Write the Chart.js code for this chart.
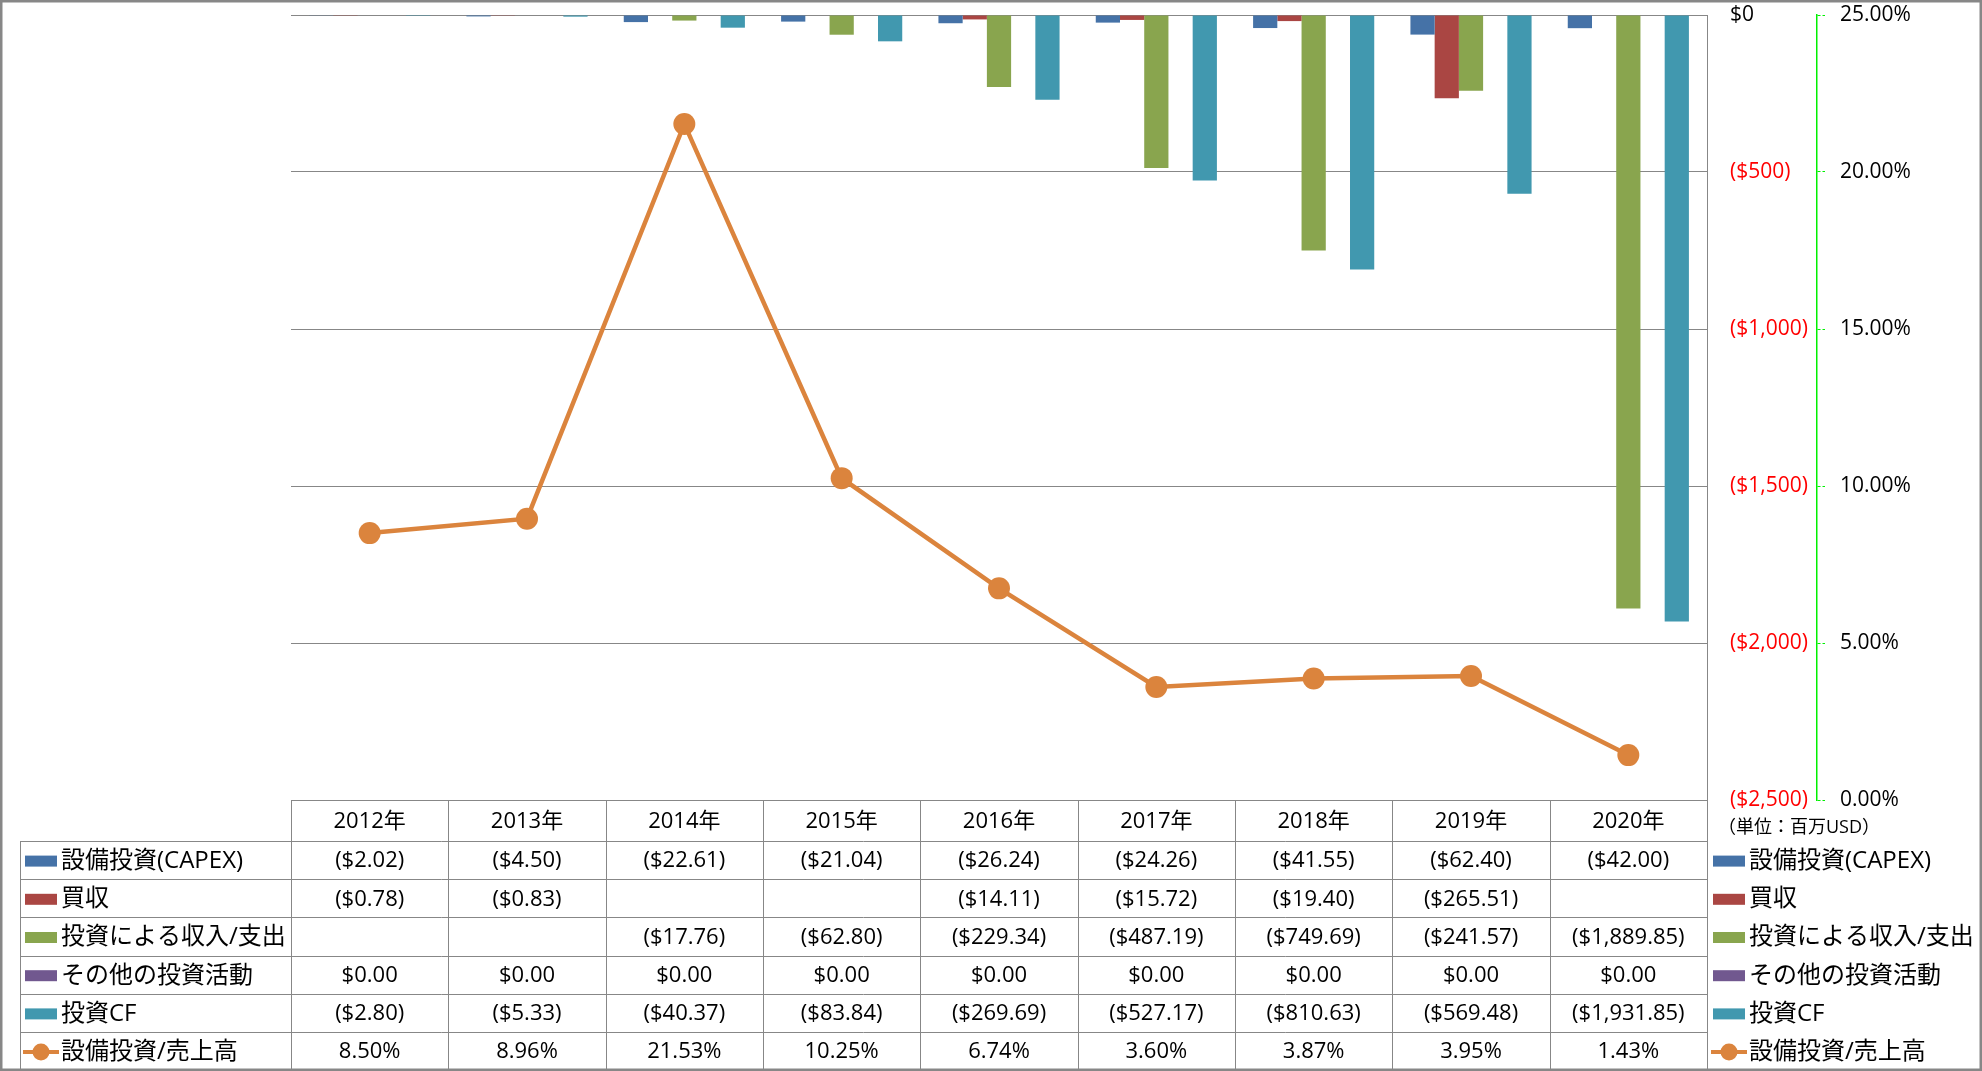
<!DOCTYPE html>
<html>
<head>
<meta charset="utf-8">
<script src="https://cdn.jsdelivr.net/npm/chart.js@4/dist/chart.umd.min.js"></script>
<style>
  body { margin: 0; background: #fff; }
  #wrap { width: 1982px; height: 1071px; }
</style>
</head>
<body>
<div id="wrap"><canvas id="capexChart" width="1982" height="1071"></canvas></div>
<script>
/* 設備投資 / 投資CF 2012-2020 */

const years = ['2012年', '2013年', '2014年', '2015年', '2016年', '2017年', '2018年', '2019年', '2020年'];

const capex = [-2.02, -4.50, -22.61, -21.04, -26.24, -24.26, -41.55, -62.40, -42.00];
const acquisition = [-0.78, -0.83, null, null, -14.11, -15.72, -19.40, -265.51, null];
const investIncome = [null, null, -17.76, -62.80, -229.34, -487.19, -749.69, -241.57, -1889.85];
const otherInvest = [0, 0, 0, 0, 0, 0, 0, 0, 0];
const investCF = [-2.80, -5.33, -40.37, -83.84, -269.69, -527.17, -810.63, -569.48, -1931.85];
const capexRatio = [8.50, 8.96, 21.53, 10.25, 6.74, 3.60, 3.87, 3.95, 1.43];

const unitLabel = '（単位：百万USD）';

const FONT = "'Open Sans', 'Noto Sans CJK JP', sans-serif";
const GRAY = '#878787';

function money(v) {
  if (v === null || v === undefined) return '';
  const s = Math.abs(v).toLocaleString('en-US', { minimumFractionDigits: 2, maximumFractionDigits: 2 });
  return v < 0 ? '($' + s + ')' : '$' + s;
}

const seriesList = [
  { label: '設備投資(CAPEX)', data: capex, color: '#4572A7', fmt: money },
  { label: '買収', data: acquisition, color: '#AA4643', fmt: money },
  { label: '投資による収入/支出', data: investIncome, color: '#89A54E', fmt: money },
  { label: 'その他の投資活動', data: otherInvest, color: '#71588F', fmt: money },
  { label: '投資CF', data: investCF, color: '#4198AF', fmt: money },
  { label: '設備投資/売上高', data: capexRatio, color: '#DB843D', fmt: v => v.toFixed(2) + '%', line: true }
];

function drawKey(ctx, s, x, y) {
  if (s.line) {
    ctx.strokeStyle = s.color;
    ctx.lineWidth = 4;
    ctx.beginPath();
    ctx.moveTo(x - 2, y);
    ctx.lineTo(x + 34, y);
    ctx.stroke();
    ctx.fillStyle = s.color;
    ctx.beginPath();
    ctx.arc(x + 16, y, 8.5, 0, Math.PI * 2);
    ctx.fill();
  } else {
    ctx.fillStyle = s.color;
    ctx.fillRect(x, y - 5.5, 32, 11);
  }
}

const dataTable = {
  id: 'dataTable',
  afterDraw(chart) {
    const { ctx, chartArea: { left, right, bottom }, scales: { x } } = chart;
    const colW = (right - left) / years.length;
    const headH = 41;
    const rowH = 38.2;
    const tableLeft = 20;
    const tableBottom = bottom + headH + rowH * seriesList.length;

    ctx.save();
    ctx.strokeStyle = GRAY;
    ctx.lineWidth = 1;
    ctx.beginPath();
    // horizontal lines
    ctx.moveTo(left, bottom + 0.5);
    ctx.lineTo(right, bottom + 0.5);
    for (let r = 0; r <= seriesList.length; r++) {
      const yy = Math.round(bottom + headH + r * rowH) + 0.5;
      ctx.moveTo(tableLeft, yy);
      ctx.lineTo(right, yy);
    }
    // vertical lines
    for (let c = 0; c <= years.length; c++) {
      const xx = Math.round(left + c * colW) + 0.5;
      ctx.moveTo(xx, bottom);
      ctx.lineTo(xx, tableBottom);
    }
    ctx.moveTo(tableLeft + 0.5, bottom + headH);
    ctx.lineTo(tableLeft + 0.5, tableBottom);
    ctx.stroke();

    ctx.textBaseline = 'middle';
    ctx.fillStyle = '#000';
    ctx.textAlign = 'center';
    ctx.font = '22px ' + FONT;
    years.forEach((yr, i) => {
      ctx.fillText(yr, x.getPixelForValue(i), bottom + headH / 2 + 1);
    });

    seriesList.forEach((s, r) => {
      const cy = bottom + headH + (r + 0.5) * rowH + 1;
      ctx.font = '22px ' + FONT;
      ctx.fillStyle = '#000';
      ctx.textAlign = 'center';
      s.data.forEach((v, i) => {
        ctx.fillText(s.fmt(v), x.getPixelForValue(i), cy);
      });
      // legend keys: left of table and right legend
      ctx.font = '24px ' + FONT;
      drawKey(ctx, s, 25, cy);
      ctx.fillStyle = '#000';
      ctx.textAlign = 'left';
      ctx.fillText(s.label, 61, cy);
      drawKey(ctx, s, 1713, cy);
      ctx.fillStyle = '#000';
      ctx.textAlign = 'left';
      ctx.fillText(s.label, 1749, cy);
    });

    ctx.font = '18px ' + FONT;
    ctx.textAlign = 'left';
    ctx.fillStyle = '#000';
    ctx.fillText(unitLabel, 1718, bottom + 28);

    // outer frame
    ctx.strokeStyle = GRAY;
    ctx.strokeRect(0.5, 0.5, chart.width - 1, chart.height - 1);
    ctx.restore();
  }
};

const barSets = seriesList.filter(s => !s.line).map(s => ({
  type: 'bar',
  label: s.label,
  data: s.data,
  backgroundColor: s.color,
  borderWidth: 0,
  yAxisID: 'y',
  order: 1,
  categoryPercentage: 0.77,
  barPercentage: 1.0
}));

const lineSet = seriesList.filter(s => s.line).map(s => ({
  type: 'line',
  label: s.label,
  data: s.data,
  borderColor: s.color,
  backgroundColor: s.color,
  borderWidth: 4.5,
  pointRadius: 11,
  pointBorderWidth: 0,
  pointBackgroundColor: s.color,
  tension: 0,
  yAxisID: 'y1',
  order: 0
}));

new Chart(document.getElementById('capexChart'), {
  type: 'bar',
  data: {
    labels: years,
    datasets: barSets.concat(lineSet)
  },
  options: {
    responsive: false,
    animation: false,
    layout: { padding: { left: 291, top: 15, right: 0, bottom: 271 } },
    plugins: {
      legend: { display: false },
      tooltip: { enabled: false }
    },
    scales: {
      x: { display: false },
      y: {
        position: 'right',
        weight: 0,
        min: -2500,
        max: 0,
        border: { display: true, color: GRAY, width: 1 },
        grid: { color: GRAY, drawTicks: false, lineWidth: 1 },
        ticks: {
          stepSize: 500,
          padding: 23,
          crossAlign: 'near',
          font: { family: FONT, size: 21 },
          color: c => c.tick.value < 0 ? '#ff0000' : '#000000',
          callback: v => v < 0 ? '($' + Math.abs(v).toLocaleString('en-US') + ')' : '$0'
        },
        afterFit: scale => {
          scale.width = 110;
          scale.paddingTop = 10;
          scale.paddingBottom = 10;
        }
      },
      y1: {
        position: 'right',
        weight: 1,
        min: 0,
        max: 25,
        border: { display: true, color: '#00f000', width: 1.5, dash: [4, 3] },
        grid: { drawOnChartArea: false, drawTicks: true, tickLength: 8, tickColor: '#00f000', tickBorderDash: [3, 2] },
        ticks: {
          stepSize: 5,
          padding: 15,
          crossAlign: 'near',
          font: { family: FONT, size: 21 },
          color: '#000',
          callback: v => v.toFixed(2) + '%'
        },
        afterFit: scale => {
          scale.width = 165;
          scale.paddingTop = 10;
          scale.paddingBottom = 10;
        }
      }
    }
  },
  plugins: [dataTable]
});
</script>
</body>
</html>
